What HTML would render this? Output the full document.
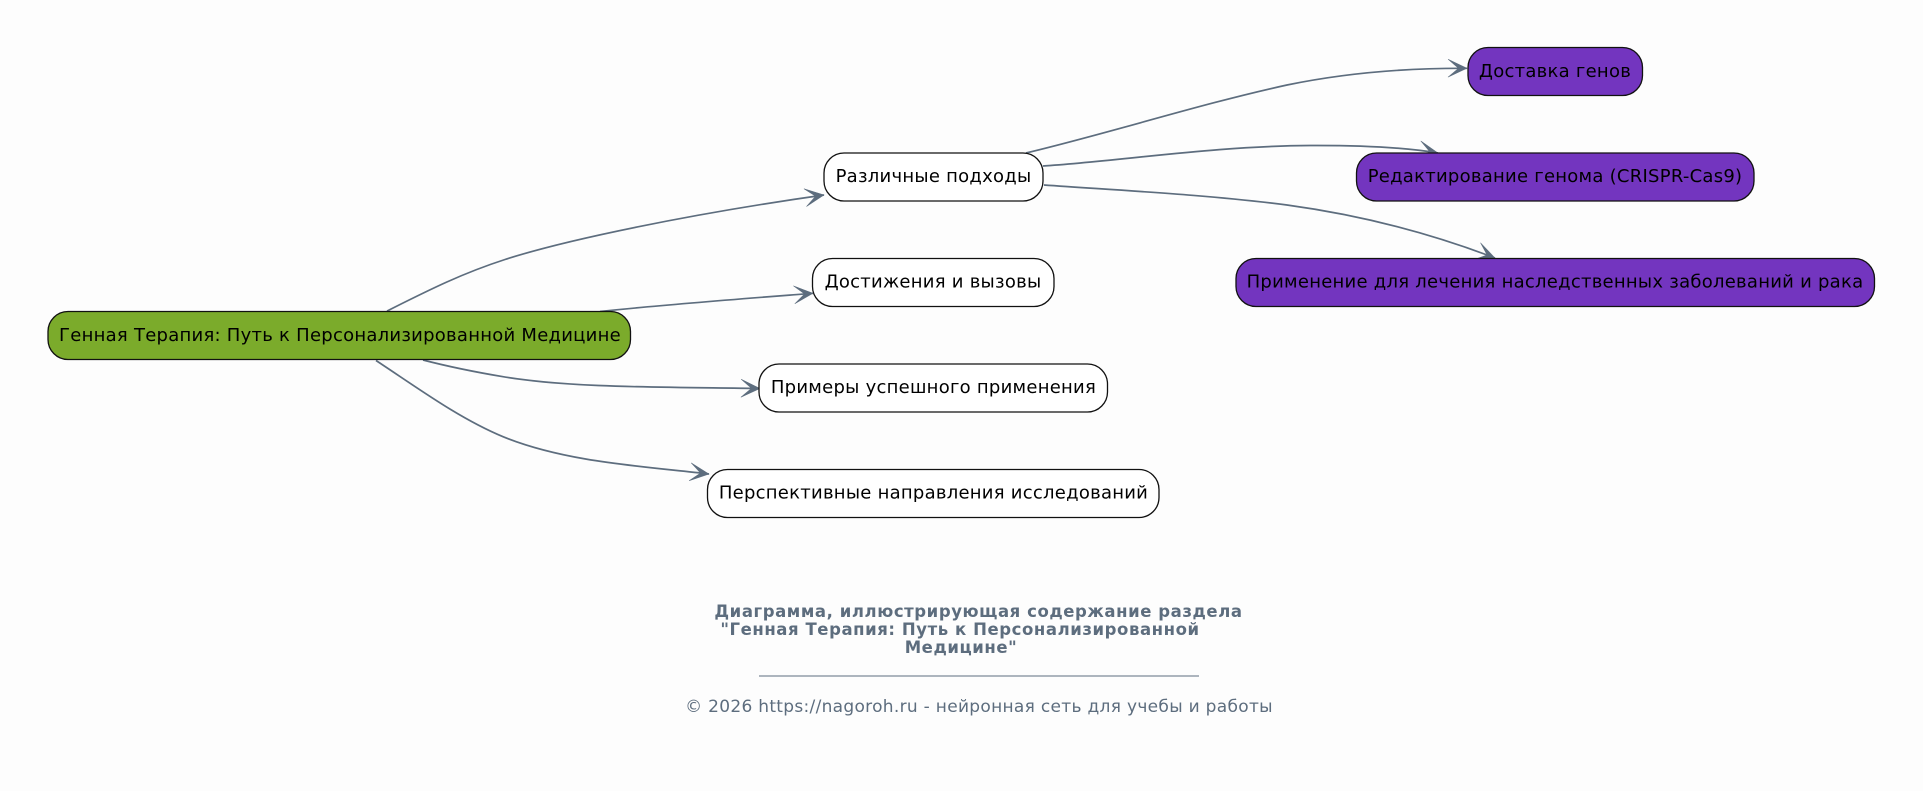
<!DOCTYPE html>
<html><head><meta charset="utf-8"><style>
html,body{margin:0;padding:0;background:#fdfdfd;width:1923px;height:791px;overflow:hidden}
svg{display:block}
text{font-family:"DejaVu Sans","Liberation Sans",sans-serif}
.n{font-size:18px;letter-spacing:.25px;fill:#000;text-anchor:middle}
.r{stroke:#111;stroke-width:1.3}
.e{fill:none;stroke:#5d6d7e;stroke-width:1.7;marker-end:url(#a)}
.t{font-size:16.5px;letter-spacing:.57px;font-weight:bold;fill:#5d6d7e;text-anchor:middle}
</style></head><body>
<svg width="1923" height="791" viewBox="0 0 1923 791" xmlns="http://www.w3.org/2000/svg">
<defs><marker id="a" markerUnits="userSpaceOnUse" markerWidth="24" markerHeight="24" viewBox="0 0 24 24" refX="21" refY="12" orient="auto"><path d="M2,3 L21,12 L2,21 L12.5,12 Z" fill="#5d6d7e" stroke="#5d6d7e" stroke-width=".5"/></marker></defs>
<rect width="1923" height="791" fill="#fdfdfd"/>
<path class="e" d="M387,311 C425,292 460,274 505,259.5 C565,240 690,214 824,195"/>
<path class="e" d="M600,311.5 C660,305 740,299 813,293.3"/>
<path class="e" d="M423,360 C450,367 475,372 503,376.7 C570,388 660,387 760,388.5"/>
<path class="e" d="M376,360.5 C415,386 458,418 503,436.7 C565,462 640,466 709,474"/>
<path class="e" d="M1026,153 C1110,133 1200,104 1287,85 C1345,73 1405,68 1467,68.3"/>
<path class="e" d="M1043,166 C1120,161 1215,146 1310,145.5 C1355,145.3 1400,146.5 1438,153"/>
<path class="e" d="M1044,185 C1130,191 1210,195 1287,205 C1360,215 1430,233 1495,258"/>
<rect class="r" x="48" y="311.5" width="582.5" height="48" rx="20" fill="#7bab2b"/>
<text class="n" x="340" y="341">Генная Терапия: Путь к Персонализированной Медицине</text>
<rect class="r" x="824" y="153" width="219" height="48" rx="20" fill="#fff"/>
<text class="n" x="933.5" y="182">Различные подходы</text>
<rect class="r" x="812.5" y="258.5" width="241.5" height="48" rx="20" fill="#fff"/>
<text class="n" x="933" y="287.5">Достижения и вызовы</text>
<rect class="r" x="759" y="364" width="348.5" height="48" rx="20" fill="#fff"/>
<text class="n" x="933.5" y="393">Примеры успешного применения</text>
<rect class="r" x="707.5" y="469.5" width="451.5" height="48" rx="20" fill="#fff"/>
<text class="n" x="933.5" y="498.5">Перспективные направления исследований</text>
<rect class="r" x="1468" y="47.5" width="174.5" height="48" rx="20" fill="#7335bf"/>
<text class="n" x="1555" y="77">Доставка генов</text>
<rect class="r" x="1356.5" y="153" width="397.5" height="48" rx="20" fill="#7335bf"/>
<text class="n" x="1555" y="182">Редактирование генома (CRISPR-Cas9)</text>
<rect class="r" x="1236" y="258.5" width="638.5" height="48" rx="20" fill="#7335bf"/>
<text class="n" x="1555" y="287.5">Применение для лечения наследственных заболеваний и рака</text>
<text class="t" x="978.5" y="617">Диаграмма, иллюстрирующая содержание раздела</text>
<text class="t" x="960" y="635">"Генная Терапия: Путь к Персонализированной</text>
<text class="t" x="961" y="653">Медицине"</text>
<rect x="759" y="675.5" width="440" height="1" fill="#5d6d7e"/>
<text x="979" y="712" style="font-size:17px;letter-spacing:.3px;fill:#5d6d7e;text-anchor:middle">© 2026 https://nagoroh.ru - нейронная сеть для учебы и работы</text>
</svg>
</body></html>
